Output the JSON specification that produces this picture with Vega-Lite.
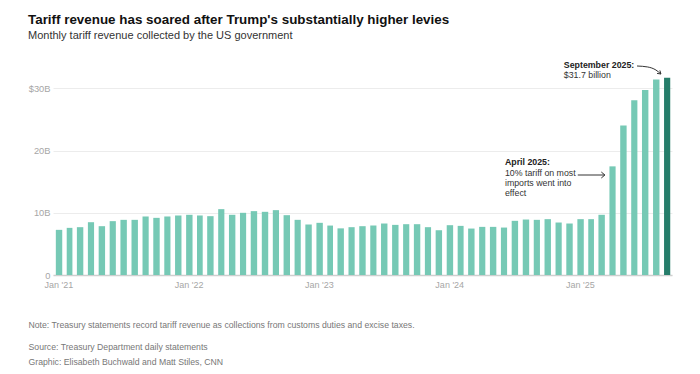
{
  "$schema": "https://vega.github.io/schema/vega-lite/v6.json",
  "width": 619,
  "height": 199,
  "autosize": {"type": "none"},
  "padding": {"left": 53, "top": 76, "right": 28, "bottom": 99},
  "background": "white",
  "config": {"font": "Liberation Sans", "view": {"stroke": null}},
  "title": {
    "text": "Tariff revenue has soared after Trump's substantially higher levies",
    "subtitle": "Monthly tariff revenue collected by the US government",
    "anchor": "start",
    "frame": "group",
    "dx": -25,
    "offset": 19.5,
    "fontSize": 13.4,
    "fontWeight": "bold",
    "color": "#111111",
    "subtitleFontSize": 11,
    "subtitleColor": "#333333",
    "subtitlePadding": 4
  },
  "datasets": {
    "revenue": [
      {"month": "2021-01", "billions": 7.26}, {"month": "2021-02", "billions": 7.58}, {"month": "2021-03", "billions": 7.69},
      {"month": "2021-04", "billions": 8.49}, {"month": "2021-05", "billions": 7.85}, {"month": "2021-06", "billions": 8.66},
      {"month": "2021-07", "billions": 8.87}, {"month": "2021-08", "billions": 8.87}, {"month": "2021-09", "billions": 9.41},
      {"month": "2021-10", "billions": 9.19}, {"month": "2021-11", "billions": 9.41}, {"month": "2021-12", "billions": 9.57},
      {"month": "2022-01", "billions": 9.68}, {"month": "2022-02", "billions": 9.57}, {"month": "2022-03", "billions": 9.46},
      {"month": "2022-04", "billions": 10.59}, {"month": "2022-05", "billions": 9.68}, {"month": "2022-06", "billions": 10.0},
      {"month": "2022-07", "billions": 10.27}, {"month": "2022-08", "billions": 10.16}, {"month": "2022-09", "billions": 10.43},
      {"month": "2022-10", "billions": 9.62}, {"month": "2022-11", "billions": 8.87}, {"month": "2022-12", "billions": 8.12},
      {"month": "2023-01", "billions": 8.39}, {"month": "2023-02", "billions": 7.95}, {"month": "2023-03", "billions": 7.5},
      {"month": "2023-04", "billions": 7.69}, {"month": "2023-05", "billions": 7.85}, {"month": "2023-06", "billions": 7.96},
      {"month": "2023-07", "billions": 8.28}, {"month": "2023-08", "billions": 8.06}, {"month": "2023-09", "billions": 8.17},
      {"month": "2023-10", "billions": 8.17}, {"month": "2023-11", "billions": 7.69}, {"month": "2023-12", "billions": 7.2},
      {"month": "2024-01", "billions": 8.01}, {"month": "2024-02", "billions": 7.9}, {"month": "2024-03", "billions": 7.47},
      {"month": "2024-04", "billions": 7.74}, {"month": "2024-05", "billions": 7.74}, {"month": "2024-06", "billions": 7.63},
      {"month": "2024-07", "billions": 8.71}, {"month": "2024-08", "billions": 8.92}, {"month": "2024-09", "billions": 8.87},
      {"month": "2024-10", "billions": 8.98}, {"month": "2024-11", "billions": 8.44}, {"month": "2024-12", "billions": 8.28},
      {"month": "2025-01", "billions": 8.98}, {"month": "2025-02", "billions": 8.98}, {"month": "2025-03", "billions": 9.68},
      {"month": "2025-04", "billions": 17.47}, {"month": "2025-05", "billions": 24.03}, {"month": "2025-06", "billions": 28.12},
      {"month": "2025-07", "billions": 29.73}, {"month": "2025-08", "billions": 31.45}, {"month": "2025-09", "billions": 31.7}
    ],
    "boldNotes": [
      {"date": "2024-12-02", "val": 33.29, "label": "September 2025:"},
      {"date": "2024-06-20", "val": 17.69, "label": "April 2025:"}
    ],
    "plainNotes": [
      {"date": "2024-12-02", "val": 31.63, "label": "$31.7 billion"},
      {"date": "2024-06-20", "val": 15.92, "label": "10% tariff on most\nimports went into\neffect"}
    ],
    "curve": [
      {"date": "2025-06-25", "val": 33.61},
      {"date": "2025-07-25", "val": 33.45},
      {"date": "2025-08-17", "val": 32.96},
      {"date": "2025-08-31", "val": 32.32}
    ],
    "segments": [
      {"id": "shaft", "i": 1, "date": "2025-01-10", "val": 16.08},
      {"id": "shaft", "i": 2, "date": "2025-03-27", "val": 16.08},
      {"id": "head1", "i": 1, "date": "2025-03-17", "val": 16.56},
      {"id": "head1", "i": 2, "date": "2025-03-27", "val": 16.08},
      {"id": "head1", "i": 3, "date": "2025-03-17", "val": 15.6},
      {"id": "head2", "i": 1, "date": "2025-08-20", "val": 32.42},
      {"id": "head2", "i": 2, "date": "2025-08-31", "val": 32.32},
      {"id": "head2", "i": 3, "date": "2025-08-28", "val": 32.9}
    ]
  },
  "layer": [
    {
      "data": {"name": "revenue"},
      "mark": {"type": "bar", "width": {"band": 0.67}},
      "encoding": {
        "x": {
          "field": "month",
          "timeUnit": "utcyearmonth",
          "type": "temporal",
          "scale": {
            "type": "utc",
            "domain": [
              {"year": 2021, "month": 1, "date": 1, "utc": true},
              {"year": 2025, "month": 10, "date": 1, "utc": true}
            ]
          },
          "axis": {
            "values": [
              {"year": 2021, "month": 1, "date": 16, "utc": true},
              {"year": 2022, "month": 1, "date": 16, "utc": true},
              {"year": 2023, "month": 1, "date": 16, "utc": true},
              {"year": 2024, "month": 1, "date": 16, "utc": true},
              {"year": 2025, "month": 1, "date": 16, "utc": true}
            ],
            "labelExpr": "utcFormat(datum.value, \"%b '%y\")",
            "ticks": false,
            "grid": false,
            "domainColor": "#cfcfcf",
            "domainWidth": 1.5,
            "labelColor": "#a6a6a6",
            "labelFontSize": 9,
            "labelPadding": 5,
            "title": "Note: Treasury statements record tariff revenue as collections from customs duties and excise taxes.",
            "titleFontSize": 8.7,
            "titleFontWeight": "normal",
            "titleColor": "#777777",
            "titleAnchor": "start",
            "titleAlign": "left",
            "titleBaseline": "alphabetic",
            "titleX": -25,
            "titleY": 52
          }
        },
        "y": {
          "field": "billions",
          "type": "quantitative",
          "scale": {"domain": [0, 32], "nice": false},
          "axis": {
            "values": [0, 10, 20, 30],
            "labelExpr": "datum.value == 30 ? '$30B' : datum.value == 0 ? '0' : datum.value + 'B'",
            "grid": true,
            "gridColor": "#ececec",
            "domain": false,
            "ticks": false,
            "labelColor": "#a6a6a6",
            "labelFontSize": 9.3,
            "labelPadding": 3,
            "title": ["Source: Treasury Department daily statements", "Graphic: Elisabeth Buchwald and Matt Stiles, CNN"],
            "titleAngle": 0,
            "titleAlign": "left",
            "titleBaseline": "alphabetic",
            "titleX": -25,
            "titleY": 273,
            "titleFontSize": 8.7,
            "titleFontWeight": "normal",
            "titleColor": "#777777",
            "titleLineHeight": 15.5
          }
        },
        "color": {
          "condition": {"test": "datum.billions >= 31.7", "value": "#267d6a"},
          "value": "#76c9b5"
        }
      }
    },
    {
      "data": {"name": "boldNotes"},
      "mark": {"type": "text", "align": "left", "baseline": "alphabetic", "fontSize": 8.8, "fontWeight": "bold", "color": "#222222"},
      "encoding": {
        "x": {"field": "date", "type": "temporal"},
        "y": {"field": "val", "type": "quantitative"},
        "text": {"field": "label"}
      }
    },
    {
      "data": {"name": "plainNotes"},
      "mark": {"type": "text", "align": "left", "baseline": "alphabetic", "fontSize": 8.8, "color": "#333333", "lineBreak": "\n", "lineHeight": 10.2},
      "encoding": {
        "x": {"field": "date", "type": "temporal"},
        "y": {"field": "val", "type": "quantitative"},
        "text": {"field": "label"}
      }
    },
    {
      "data": {"name": "curve"},
      "mark": {"type": "line", "interpolate": "monotone", "color": "#333333", "strokeWidth": 1},
      "encoding": {
        "x": {"field": "date", "type": "temporal"},
        "y": {"field": "val", "type": "quantitative"}
      }
    },
    {
      "data": {"name": "segments"},
      "mark": {"type": "line", "color": "#333333", "strokeWidth": 1},
      "encoding": {
        "x": {"field": "date", "type": "temporal"},
        "y": {"field": "val", "type": "quantitative"},
        "detail": {"field": "id"},
        "order": {"field": "i"}
      }
    }
  ]
}
